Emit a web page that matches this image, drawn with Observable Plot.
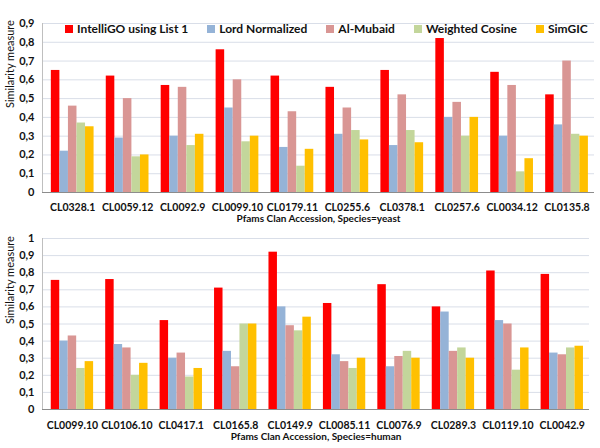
<!DOCTYPE html>
<html><head><meta charset="utf-8">
<script src="https://cdn.jsdelivr.net/npm/d3@7"></script>
<script src="https://cdn.jsdelivr.net/npm/@observablehq/plot@0.6"></script>
<style>
body{margin:0;background:#fff;}
#wrap{position:relative;width:600px;height:448px;font-family:Lato,"Open Sans",sans-serif;}
#wrap svg{display:block;}
#legend{position:absolute;left:65px;top:21px;display:flex;align-items:center;font-weight:bold;font-size:12px;color:#111;white-space:nowrap;}
#legend .item{display:flex;align-items:center;margin-right:19px;}
#legend .sw{width:8px;height:8px;margin-right:4px;}
</style></head><body><div id="wrap"></div>
<script>
const series = ["IntelliGO using List 1","Lord Normalized","Al-Mubaid","Weighted Cosine","SimGIC"];
const colors = ["#FF0000","#95B3D7","#D99694","#C3D69B","#FFC000"];

const yeastClans = ["CL0328.1","CL0059.12","CL0092.9","CL0099.10","CL0179.11","CL0255.6","CL0378.1","CL0257.6","CL0034.12","CL0135.8"];
const yeastIntelliGO = [0.65,0.62,0.57,0.76,0.62,0.56,0.65,0.82,0.64,0.52];
const yeastLord      = [0.22,0.29,0.30,0.45,0.24,0.31,0.25,0.40,0.30,0.36];
const yeastAlMubaid  = [0.46,0.50,0.56,0.60,0.43,0.45,0.52,0.48,0.57,0.70];
const yeastWeighted  = [0.37,0.19,0.25,0.27,0.14,0.33,0.33,0.30,0.11,0.31];
const yeastSimGIC    = [0.35,0.20,0.31,0.30,0.23,0.28,0.265,0.40,0.18,0.30];
const yeastTicks = [0,0.1,0.2,0.3,0.4,0.5,0.6,0.7,0.8,0.9];

const humanClans = ["CL0099.10","CL0106.10","CL0417.1","CL0165.8","CL0149.9","CL0085.11","CL0076.9","CL0289.3","CL0119.10","CL0042.9"];
const humanIntelliGO = [0.755,0.76,0.52,0.71,0.92,0.62,0.73,0.60,0.81,0.79];
const humanLord      = [0.40,0.38,0.30,0.34,0.60,0.32,0.25,0.57,0.52,0.33];
const humanAlMubaid  = [0.43,0.36,0.33,0.25,0.49,0.28,0.31,0.34,0.50,0.32];
const humanWeighted  = [0.24,0.20,0.19,0.50,0.46,0.24,0.34,0.36,0.23,0.36];
const humanSimGIC    = [0.28,0.27,0.24,0.50,0.54,0.30,0.30,0.30,0.36,0.37];
const humanTicks = [0,0.1,0.2,0.3,0.4,0.5,0.6,0.7,0.8,0.9,1];

const fmt = d => (d === 0 || d === 1) ? String(d) : d.toFixed(1).replace(".", ",");
const X0 = -0.05, GROUP = 0.778;

function panel({clans, values, ticks, title, height, marginTop, marginBottom, marginRight, dyLab, dyTitle}) {
  const rows = [];
  clans.forEach((c, ci) => values.forEach((arr, si) => rows.push({clan: c, ci, si, series: series[si], value: arr[ci]})));
  const bw = GROUP / series.length, off = (1 - GROUP) / 2;
  return Plot.plot({
    width: 600, height, marginLeft: 42, marginRight, marginTop, marginBottom,
    style: {fontFamily: "Lato, 'Open Sans', sans-serif", fontSize: "11px", fontWeight: "bold", color: "#111", background: "#fff", overflow: "visible"},
    x: {domain: [X0, clans.length], axis: null},
    y: {domain: [0, ticks[ticks.length - 1]], ticks, tickFormat: fmt, tickSize: 0, tickPadding: 8, label: null},
    color: {domain: series, range: colors},
    marks: [
      Plot.ruleY(ticks.slice(1), {stroke: "#D9DEE8"}),
      Plot.rectY(rows, {x1: d => d.ci + off + d.si * bw, x2: d => d.ci + off + (d.si + 1) * bw, y: "value", fill: "series"}),
      Plot.ruleY([0], {stroke: "#8C8C8C"}),
      Plot.ruleX([X0], {stroke: "#BFBFBF"}),
      Plot.text(clans, {x: (d, i) => i + 0.5, frameAnchor: "bottom", dy: dyLab, fontWeight: "bold", fontSize: 10.5}),
      Plot.text([title], {frameAnchor: "bottom", dy: dyTitle, fontWeight: "bold", fontSize: 10}),
      Plot.text(["Similarity measure"], {frameAnchor: "left", rotate: -90, dx: -32, fontSize: 11, fontWeight: "normal"})
    ]
  });
}

const wrap = document.getElementById("wrap");
const topPanel = panel({clans: yeastClans, values: [yeastIntelliGO, yeastLord, yeastAlMubaid, yeastWeighted, yeastSimGIC],
  ticks: yeastTicks, title: "Pfams Clan Accession, Species=yeast", height: 226, marginTop: 23, marginBottom: 34, marginRight: 6, dyLab: 18, dyTitle: 29});
const bottomPanel = panel({clans: humanClans, values: [humanIntelliGO, humanLord, humanAlMubaid, humanWeighted, humanSimGIC],
  ticks: humanTicks, title: "Pfams Clan Accession, Species=human", height: 222, marginTop: 12, marginBottom: 39, marginRight: 11, dyLab: 19, dyTitle: 30});
wrap.appendChild(topPanel);
wrap.appendChild(bottomPanel);

const legend = document.createElement("div");
legend.id = "legend";
series.forEach((s, i) => {
  const it = document.createElement("div"); it.className = "item";
  const sw = document.createElement("div"); sw.className = "sw"; sw.style.background = colors[i];
  const tx = document.createElement("span"); tx.textContent = s;
  it.appendChild(sw); it.appendChild(tx); legend.appendChild(it);
});
wrap.appendChild(legend);
</script></body></html>
